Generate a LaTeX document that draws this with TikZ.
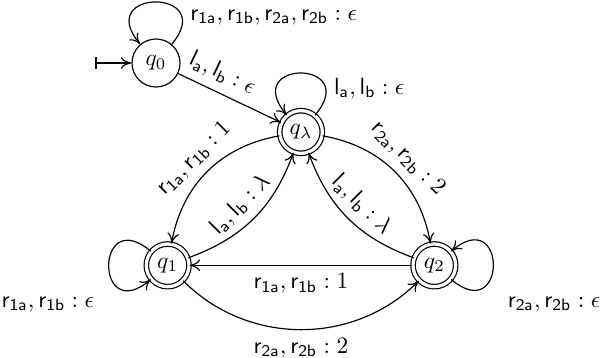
\documentclass[tikz,border=0pt]{standalone}
\usepackage{amsmath,amssymb}
\usetikzlibrary{arrows.meta,positioning}

\newcommand{\tsym}[2]{\mathsf{#1}_{\mathsf{#2}}}

\begin{document}
\begin{tikzpicture}[
    >={To[length=4.5pt, width=5pt]},
    line width=0.5pt,
    on grid,
    state/.style={
        draw,
        circle,
        minimum size=0.72cm,
        inner sep=0pt
    },
    final/.style={
        state,
        minimum size=0.64cm,
        double,
        double distance=1.4pt
    },
    selfloop/.style={
        ->,
        looseness=1,
        min distance=1.1cm,
        max distance=1.1cm
    }
]

\useasboundingbox (-4.515,-3.39) rectangle (4.485,1.98);

% States
\node[final] (qlam) at (0,0) {$q_\lambda$};
\node[state, above left=1.035cm and 2.175cm of qlam] (q0) {$q_0$};
\node[final, below left=2cm and 2cm of qlam] (q1) {$q_1$};
\node[final, below right=2cm and 2cm of qlam] (q2) {$q_2$};

% Initial arrow
\coordinate[left=0.54cm of q0.west] (q0in);
\draw[{Bar[width=5.5pt]}->] (q0in) -- (q0);

% Loops
\draw[selfloop] (q0) to[out=50, in=130]
    node[pos=0.2, right] {$\tsym{r}{1a}, \tsym{r}{1b}, \tsym{r}{2a}, \tsym{r}{2b} : \epsilon$} (q0);
\draw[selfloop] (qlam) to[out=50, in=130]
    node[pos=0.2, right] {$\tsym{l}{a}, \tsym{l}{b} : \epsilon$} (qlam);
\draw[selfloop] (q1) to[out=140, in=220]
    node[pos=0.75, below left, xshift=-0.25cm] {$\tsym{r}{1a}, \tsym{r}{1b} : \epsilon$} (q1);
\draw[selfloop] (q2) to[out=-40, in=40]
    node[pos=0.25, below right, xshift=0.25cm] {$\tsym{r}{2a}, \tsym{r}{2b} : \epsilon$} (q2);

% q0 to q_lambda
\draw[->] (q0) -- node[pos=0.35, above, sloped] {$\tsym{l}{a}, \tsym{l}{b} : \epsilon$} (qlam);

% Left side
\draw[->] (qlam) to[bend right=35] node[above, sloped] {$\tsym{r}{1a}, \tsym{r}{1b} : 1$} (q1);
\draw[->] (q1) to[bend right=25] node[above, sloped] {$\tsym{l}{a}, \tsym{l}{b} : \lambda$} (qlam);

% Right side
\draw[->] (qlam) to[bend left=35] node[above, sloped] {$\tsym{r}{2a}, \tsym{r}{2b} : 2$} (q2);
\draw[->] (q2) to[bend left=25] node[above, sloped] {$\tsym{l}{a}, \tsym{l}{b} : \lambda$} (qlam);

% Bottom
\draw[->] (q2) -- node[below] {$\tsym{r}{1a}, \tsym{r}{1b} : 1$} (q1);
\draw[->] (q1) to[bend right=45] node[below] {$\tsym{r}{2a}, \tsym{r}{2b} : 2$} (q2);

\end{tikzpicture}
\end{document}
